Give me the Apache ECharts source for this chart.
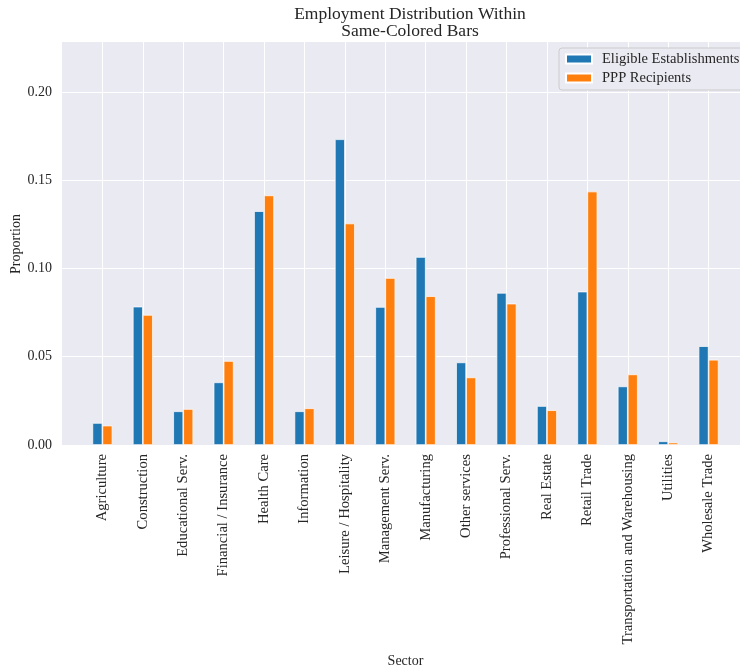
<!DOCTYPE html>
<html>
<head>
<meta charset="utf-8">
<title>Employment Distribution</title>
<script src="https://cdn.jsdelivr.net/npm/echarts@6/dist/echarts.min.js"></script>
<style>
  html, body { margin: 0; padding: 0; background: #ffffff; }
  #chart { width: 740px; height: 672px; }
</style>
</head>
<body>
<div id="chart"></div>
<script>
// sectors along the x axis
var sectors = [
    'Agriculture', 'Construction', 'Educational Serv.', 'Financial / Insurance',
    'Health Care', 'Information', 'Leisure / Hospitality', 'Management Serv.',
    'Manufacturing', 'Other services', 'Professional Serv.', 'Real Estate',
    'Retail Trade', 'Transportation and Warehousing', 'Utilities', 'Wholesale Trade'
];
// share of employment
var eligible = [
    0.0125, 0.0784, 0.0191, 0.0355, 0.1325, 0.0191, 0.1732, 0.0782,
    0.1065, 0.0468, 0.0862, 0.0221, 0.0869, 0.0332, 0.0021, 0.0560
];
var recipients = [
    0.0110, 0.0737, 0.0204, 0.0476, 0.1414, 0.0208, 0.1255, 0.0946,
    0.0843, 0.0383, 0.0801, 0.0197, 0.1436, 0.0400, 0.0014, 0.0483
];
var yTicks = [0, 0.05, 0.10, 0.15, 0.20];
var seriesNames = ['Eligible Establishments', 'PPP Recipients'];

var FONT = '"Liberation Serif", "DejaVu Serif", serif';
var INK = '#262626';

function pairs(values) {
    return values.map(function (v, i) { return [i, v]; });
}

var myChart = echarts.init(document.getElementById('chart'));

var option = {
    backgroundColor: '#ffffff',
    animation: false,
    textStyle: { fontFamily: FONT, color: INK },
    title: {
        text: 'Employment Distribution Within\nSame-Colored Bars',
        left: 405,
        top: 1,
        textAlign: 'center',
        textStyle: {
            fontFamily: FONT, fontWeight: 'normal', fontSize: 17.5,
            color: INK, lineHeight: 17
        }
    },
    // y axis title, placed by hand (axis name kept drifting left)
    graphic: [{
        type: 'text',
        x: 16,
        y: 244,
        rotation: Math.PI / 2,
        style: {
            text: 'Proportion',
            font: '14px ' + FONT,
            fill: INK,
            align: 'center',
            verticalAlign: 'middle'
        }
    }],
    legend: {
        orient: 'vertical',
        left: 559,
        top: 48,
        icon: 'rect',
        itemWidth: 26,
        itemHeight: 9,
        itemGap: 3,
        padding: [3, 40, 4, 6],
        backgroundColor: '#eaeaf2',
        borderColor: '#cccccc',
        borderWidth: 1,
        borderRadius: 3,
        textStyle: {
            fontFamily: FONT, fontSize: 14.5, color: INK,
            lineHeight: 16, padding: [0, 0, 0, 5]
        },
        data: seriesNames
    },
    grid: {
        left: 62,
        top: 42,
        right: -9,
        bottom: 227,
        outerBoundsMode: 'none',
        containLabel: false,
        show: true,
        backgroundColor: '#eaeaf2',
        borderWidth: 0
    },
    xAxis: {
        type: 'value',
        min: -1,
        max: 16,
        interval: 1,
        name: 'Sector',
        nameLocation: 'middle',
        nameGap: 209,
        nameMoveOverlap: false,
        nameTextStyle: { fontFamily: FONT, fontSize: 14, color: INK },
        axisLine: { show: false },
        axisTick: { show: false },
        splitLine: {
            show: true, showMinLine: false, showMaxLine: false,
            lineStyle: { color: '#ffffff', width: 1 }
        },
        axisLabel: {
            rotate: 90,
            margin: 9,
            fontFamily: FONT,
            fontSize: 14.6,
            color: INK,
            formatter: function (v) {
                var i = Math.round(v);
                return (i >= 0 && i < sectors.length) ? sectors[i] : '';
            }
        }
    },
    yAxis: {
        type: 'value',
        min: 0,
        max: 0.2283,
        interval: 0.05,
        axisLine: { show: false },
        axisTick: { show: false },
        splitLine: {
            show: true, showMaxLine: false,
            lineStyle: { color: '#ffffff', width: 1 }
        },
        axisLabel: {
            margin: 10,
            fontFamily: FONT,
            fontSize: 14,
            color: INK,
            showMaxLabel: false,
            formatter: function (v) {
                for (var k = 0; k < yTicks.length; k++) {
                    if (Math.abs(v - yTicks[k]) < 1e-9) return yTicks[k].toFixed(2);
                }
                return '';
            }
        }
    },
    series: [
        {
            name: seriesNames[0],
            type: 'bar',
            barWidth: 10,
            barGap: '0%',
            itemStyle: { color: '#1f77b4', borderColor: '#ffffff', borderWidth: 0.7 },
            data: pairs(eligible)
        },
        {
            name: seriesNames[1],
            type: 'bar',
            barWidth: 10,
            barGap: '0%',
            itemStyle: { color: '#ff7f0e', borderColor: '#ffffff', borderWidth: 0.7 },
            data: pairs(recipients)
        }
    ]
};

myChart.setOption(option);
</script>
</body>
</html>
